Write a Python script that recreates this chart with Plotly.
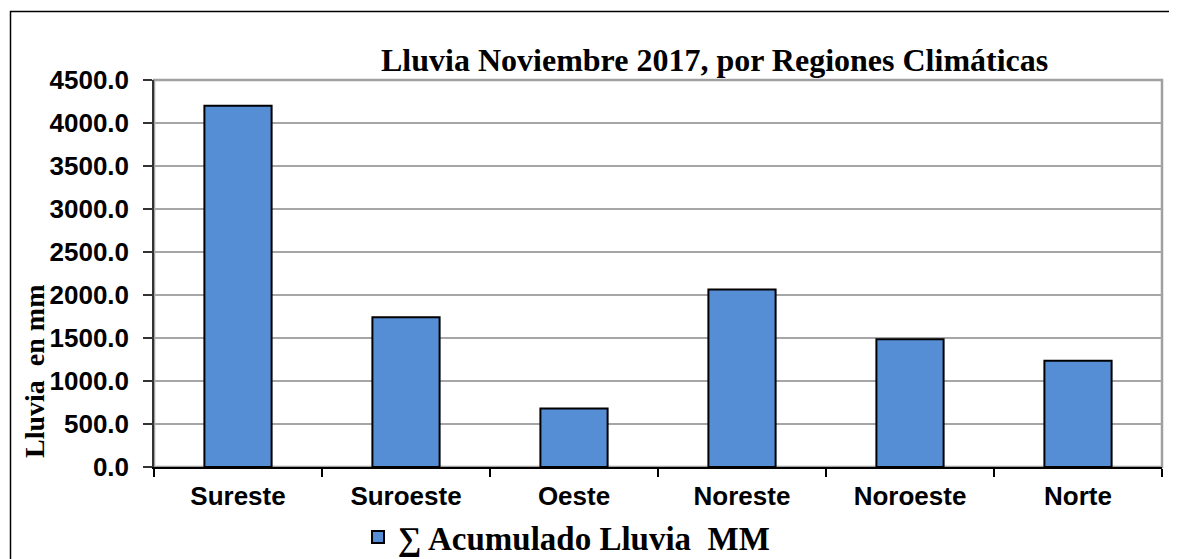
import plotly.graph_objects as go

regiones = ["Sureste", "Suroeste", "Oeste", "Noreste", "Noroeste", "Norte"]
lluvia_mm = [4200.0, 1740.0, 680.0, 2065.0, 1485.0, 1235.0]
y_ticks = [0, 500, 1000, 1500, 2000, 2500, 3000, 3500, 4000, 4500]

W, H = 1177, 559
OFF = 8  # default page body margin
L, R, T, B = 154 - OFF, 1162 - OFF, 80 - OFF, 467 - OFF
pw, ph = R - L, B - T

def px(x):
    return (x - OFF - L) / pw

def py(y):
    return (B - (y - OFF)) / ph

fig = go.Figure()
fig.add_trace(go.Bar(
    x=regiones, y=lluvia_mm,
    name="∑ Acumulado Lluvia  MM",
    width=0.4,
    marker=dict(color="#558ED5", line=dict(color="#000000", width=2)),
    showlegend=True,
))

fig.update_layout(
    width=W, height=H,
    margin=dict(l=L, r=W - R, t=T, b=H - B, pad=0, autoexpand=False),
    paper_bgcolor="white", plot_bgcolor="white",
    showlegend=True,
    legend=dict(orientation="h", x=px(358), y=py(537), xanchor="left", yanchor="middle",
                font=dict(family="Liberation Serif", size=33, color="black", weight="bold"),
                itemwidth=30, bgcolor="rgba(0,0,0,0)"),
    bargap=0.6,
)

fig.update_xaxes(
    type="category", range=[-0.5, 5.5],
    showline=True, linecolor="#000000", linewidth=1.5,
    ticks="outside", ticklen=8, tickcolor="#000000", tickwidth=1.5,
    tickson="boundaries",
    showgrid=False,
    tickfont=dict(family="Liberation Sans", size=26, color="black", weight="bold"),
    ticklabelstandoff=5,
)
fig.update_yaxes(
    range=[0, 4500], tickvals=y_ticks, tickformat=".1f",
    showline=True, linecolor="#333333", linewidth=1.5,
    ticks="outside", ticklen=9, tickcolor="#333333", tickwidth=1.5,
    showgrid=True, gridcolor="#A6A6A6", gridwidth=1.5,
    zeroline=False,
    tickfont=dict(family="Liberation Sans", size=26, color="black", weight="bold"),
    ticklabelstandoff=9,
)

# plot area border (gray, top and right)
fig.add_shape(type="rect", xref="paper", yref="paper", x0=0, x1=1, y0=0, y1=1,
              line=dict(color="#A0A0A0", width=2.5), layer="below")
# outer chart border
fig.add_shape(type="rect", xref="paper", yref="paper",
              x0=px(10.5), x1=px(1190), y0=py(11.5), y1=py(580),
              line=dict(color="#000000", width=1.5))

fig.add_annotation(text="Lluvia Noviembre 2017, por Regiones Climáticas",
                   xref="paper", yref="paper", x=px(714), y=py(60),
                   xanchor="center", yanchor="middle", showarrow=False,
                   font=dict(family="Liberation Serif", size=32, color="black", weight="bold"))
fig.add_annotation(text="Lluvia  en mm",
                   xref="paper", yref="paper", x=px(34), y=py(372),
                   xanchor="center", yanchor="middle", showarrow=False, textangle=-90,
                   font=dict(family="Liberation Serif", size=28, color="black", weight="bold"))

fig.write_html("out.html")
